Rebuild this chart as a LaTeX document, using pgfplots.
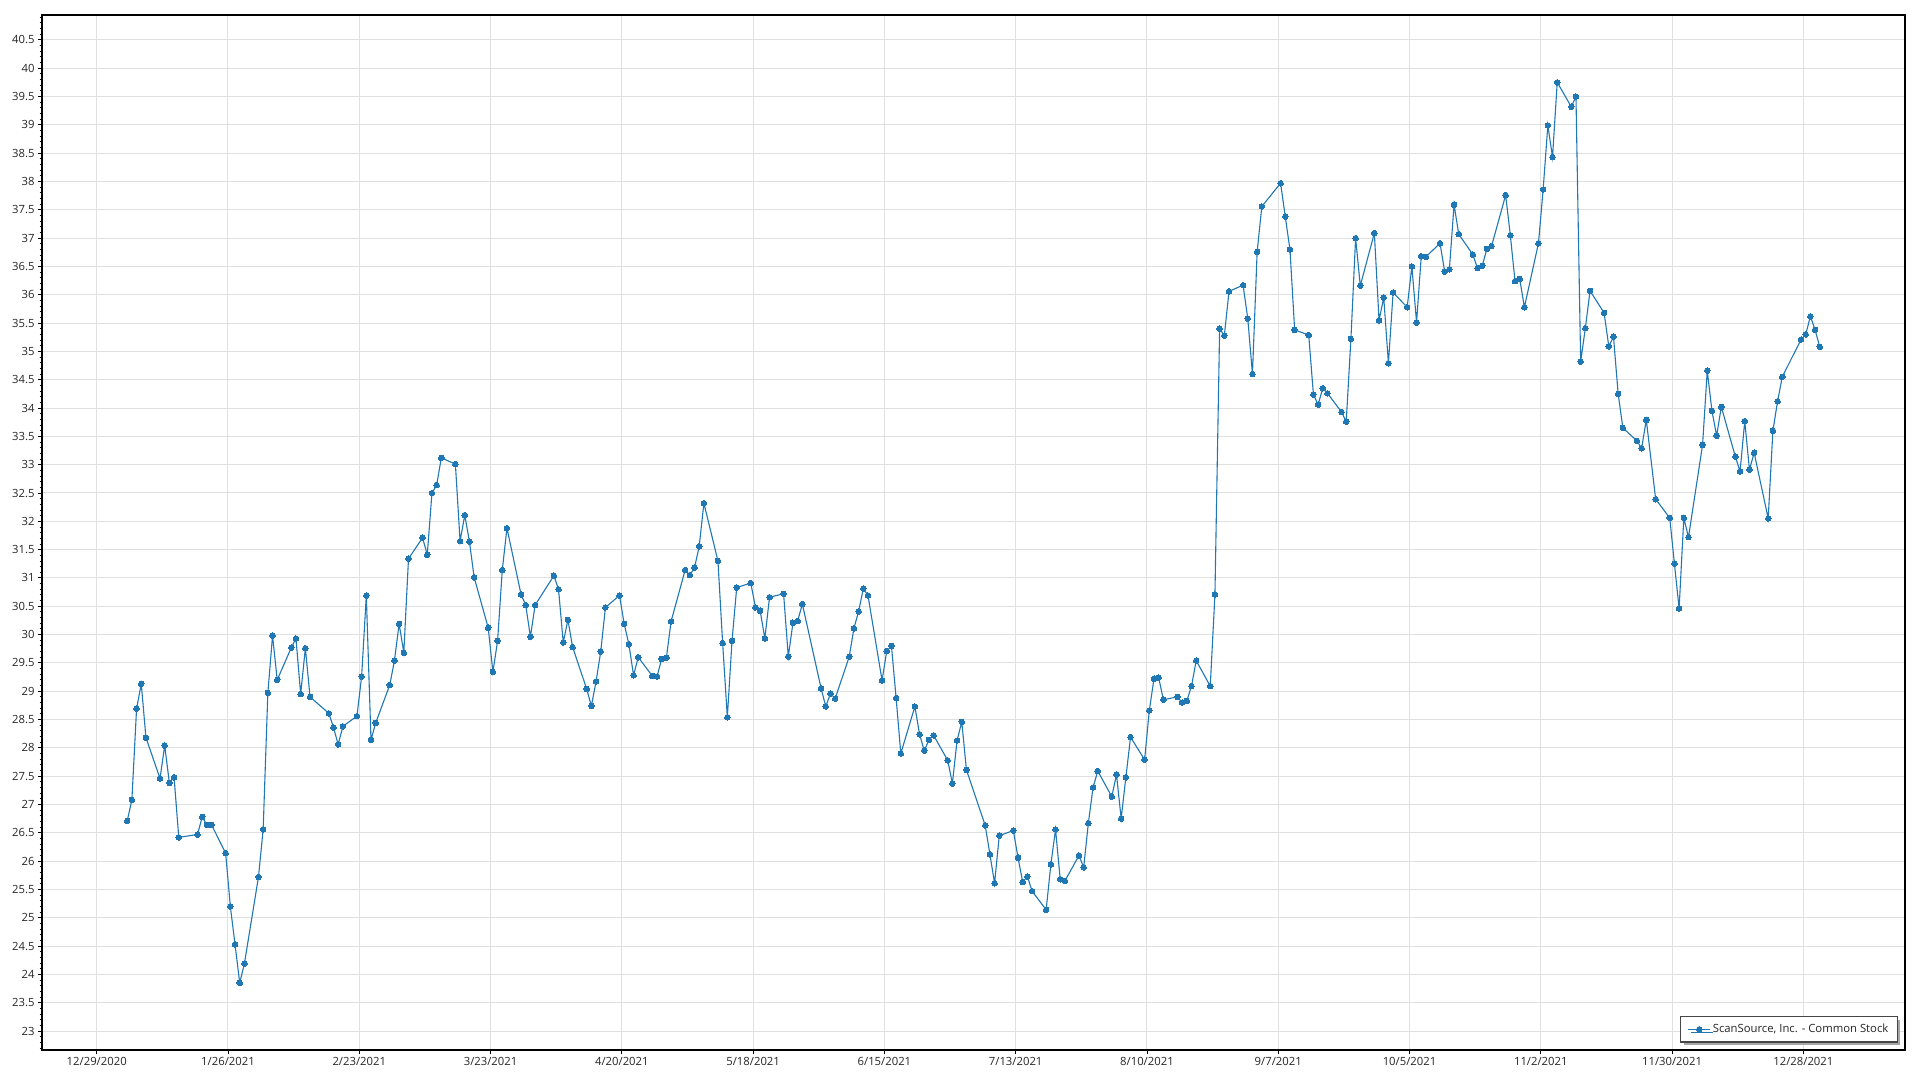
\documentclass[border=0pt]{standalone}
\usepackage{fontspec}
\setmainfont{Open Sans}
\usepackage{pgfplots}
\pgfplotsset{compat=1.18}
\usetikzlibrary{shadows}
\definecolor{series}{RGB}{31,119,180}
\definecolor{gridc}{RGB}{224,224,224}
\definecolor{legborder}{RGB}{70,70,70}

\pgfplotstableread{
day price
6 26.71
7 27.08
8 28.69
9 29.13
10 28.18
13 27.46
14 28.04
15 27.38
16 27.48
17 26.42
21 26.47
22 26.78
23 26.64
24 26.64
27 26.14
28 25.20
29 24.53
30 23.85
31 24.19
34 25.72
35 26.56
36 28.97
37 29.98
38 29.20
41 29.77
42 29.93
43 28.95
44 29.76
45 28.90
49 28.61
50 28.36
51 28.06
52 28.38
55 28.56
56 29.26
57 30.69
58 28.14
59 28.44
62 29.11
63 29.54
64 30.19
65 29.68
66 31.34
69 31.71
70 31.41
71 32.50
72 32.64
73 33.12
76 33.01
77 31.65
78 32.11
79 31.64
80 31.01
83 30.12
84 29.34
85 29.89
86 31.14
87 31.88
90 30.71
91 30.52
92 29.96
93 30.52
97 31.04
98 30.80
99 29.86
100 30.26
101 29.78
104 29.04
105 28.74
106 29.17
107 29.70
108 30.48
111 30.69
112 30.19
113 29.83
114 29.28
115 29.60
118 29.27
119 29.26
120 29.57
121 29.59
122 30.23
125 31.14
126 31.05
127 31.18
128 31.56
129 32.32
132 31.30
133 29.85
134 28.54
135 29.89
136 30.83
139 30.91
140 30.48
141 30.42
142 29.93
143 30.66
146 30.72
147 29.61
148 30.21
149 30.24
150 30.54
154 29.05
155 28.73
156 28.96
157 28.87
160 29.61
161 30.11
162 30.41
163 30.81
164 30.69
167 29.19
168 29.71
169 29.80
170 28.88
171 27.90
174 28.73
175 28.24
176 27.95
177 28.14
178 28.22
181 27.78
182 27.37
183 28.13
184 28.46
185 27.61
189 26.63
190 26.12
191 25.61
192 26.45
195 26.54
196 26.06
197 25.63
198 25.73
199 25.47
202 25.14
203 25.94
204 26.56
205 25.68
206 25.65
209 26.10
210 25.89
211 26.67
212 27.30
213 27.59
216 27.14
217 27.53
218 26.75
219 27.48
220 28.19
223 27.79
224 28.66
225 29.22
226 29.24
227 28.85
230 28.90
231 28.80
232 28.83
233 29.09
234 29.54
237 29.09
238 30.71
239 35.40
240 35.28
241 36.06
244 36.17
245 35.58
246 34.60
247 36.76
248 37.56
252 37.97
253 37.38
254 36.80
255 35.38
258 35.29
259 34.24
260 34.06
261 34.35
262 34.26
265 33.93
266 33.76
267 35.22
268 37.00
269 36.16
272 37.09
273 35.55
274 35.95
275 34.79
276 36.04
279 35.78
280 36.50
281 35.51
282 36.68
283 36.67
286 36.91
287 36.41
288 36.45
289 37.59
290 37.07
293 36.71
294 36.47
295 36.51
296 36.81
297 36.86
300 37.76
301 37.05
302 36.24
303 36.28
304 35.78
307 36.91
308 37.86
309 38.99
310 38.43
311 39.75
314 39.32
315 39.50
316 34.82
317 35.41
318 36.07
321 35.68
322 35.09
323 35.26
324 34.25
325 33.65
328 33.42
329 33.29
330 33.79
332 32.39
335 32.06
336 31.25
337 30.46
338 32.06
339 31.72
342 33.35
343 34.66
344 33.95
345 33.51
346 34.02
349 33.14
350 32.88
351 33.77
352 32.91
353 33.21
356 32.05
357 33.60
358 34.12
359 34.55
363 35.21
364 35.30
365 35.62
366 35.38
367 35.08
}\stocktable

\begin{document}
\begin{tikzpicture}[x=1pt,y=1pt]
\path[use as bounding box] (0,0) rectangle (1920,1080);
\begin{axis}[
  at={(42pt,30pt)}, anchor=south west,
  width=1863pt, height=1035pt, scale only axis,
  xmin=-12.17, xmax=385.18,
  ymin=22.665, ymax=40.94,
  xtick={-0.5,27.5,55.5,83.5,111.5,139.5,167.5,195.5,223.5,251.5,279.5,307.5,335.5,363.5},
  xticklabels={12/29/2020,1/26/2021,2/23/2021,3/23/2021,4/20/2021,5/18/2021,6/15/2021,7/13/2021,8/10/2021,9/7/2021,10/5/2021,11/2/2021,11/30/2021,12/28/2021},
  ytick={23,23.5,...,40.5},
  minor ytick={22.7,22.8,...,40.95},
  grid=major,
  major grid style={gridc, line width=1pt},
  tick align=outside,
  xtick pos=lower, ytick pos=left,
  major tick length=4pt, minor tick length=2.3pt,
  every tick/.style={black, line width=0.9pt},
  axis line style={black, line width=1.3pt},
  tick label style={font=\fontsize{11.3}{13}\selectfont, text=black!85},
  /pgf/number format/assume math mode=true,
  legend style={at={(1,0)}, anchor=south east, xshift=-7pt, yshift=7.5pt,
    draw=legborder, line width=1.3pt, fill=white,
    drop shadow={shadow xshift=3pt, shadow yshift=-3pt, fill=black!35, opacity=1},
    inner xsep=7pt, inner ysep=5.5pt,
    font=\fontsize{11.3}{13}\selectfont, text=black!85},
  legend cell align=left,
  legend image code/.code={\draw[mark repeat=2,mark phase=2] plot coordinates {(0pt,0pt)(11pt,0pt)(22pt,0pt)};},
]
\addplot[color=series, line width=1.1pt, mark=*, mark size=2.8pt,
  mark options={solid, fill=series, draw=series, line width=0pt}]
  table[x=day, y=price] {\stocktable};
\addlegendentry{ScanSource, Inc. - Common Stock}
\end{axis}
\end{tikzpicture}
\end{document}
